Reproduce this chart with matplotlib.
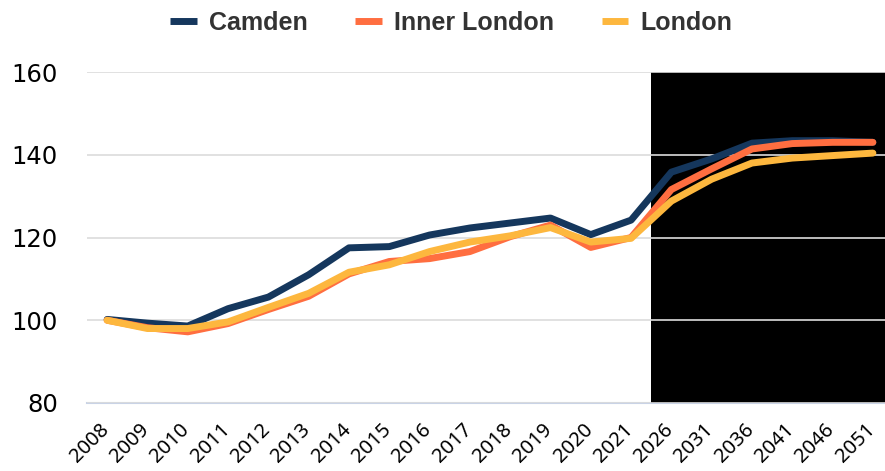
import matplotlib
matplotlib.use("Agg")
import matplotlib.pyplot as plt
from matplotlib.transforms import ScaledTranslation

# index values (2008 = 100)
years = ["2008", "2009", "2010", "2011", "2012", "2013", "2014", "2015", "2016", "2017",
         "2018", "2019", "2020", "2021", "2026", "2031", "2036", "2041", "2046", "2051"]
camden = [100.2, 99.3, 98.6, 102.8, 105.6, 111.0, 117.5, 117.8, 120.6, 122.3,
          123.5, 124.7, 120.7, 124.2, 135.8, 139.0, 142.8, 143.4, 143.4, 143.0]
inner_london = [100.0, 98.2, 97.2, 99.2, 102.6, 105.8, 111.2, 114.2, 114.9, 116.6,
                120.2, 123.0, 117.6, 120.0, 131.6, 136.6, 141.4, 142.7, 143.0, 143.0]
london = [100.0, 98.0, 98.0, 99.6, 103.1, 106.5, 111.6, 113.4, 116.6, 118.9,
          120.4, 122.4, 118.9, 119.8, 128.8, 134.1, 138.0, 139.2, 139.8, 140.4]
series_names = ["Camden", "Inner London", "London"]
projection_start = "2026"

colors = ["#15375d", "#ff6e40", "#fdb73e"]

plt.rcParams["font.family"] = "DejaVu Sans"

fig = plt.figure(figsize=(8.85, 4.71), dpi=100)
ax = fig.add_axes([87 / 885, 68 / 471, 798 / 885, 331 / 471])

x = list(range(len(years)))
# black block behind the projected years
p = years.index(projection_start)
ax.axvspan(p - 0.5, len(years) - 0.7, color="black", zorder=1, lw=0)

for vals, name, c in zip([camden, inner_london, london], series_names, colors):
    ax.plot(x, vals, color=c, lw=5, label=name, solid_capstyle="round",
            solid_joinstyle="round", zorder=3)

ax.set_xlim(-0.5, len(years) - 0.7)
ax.set_ylim(80, 160)
ax.set_yticks([80, 100, 120, 140, 160])
ax.set_xticks(x)
ax.set_xticklabels(years, rotation=45, ha="right", fontsize=14.5, family="Noto Sans")
ax.tick_params(axis="y", labelsize=17.5, length=0, pad=21)
ax.tick_params(axis="x", length=0, pad=12)
shift = ScaledTranslation(6 / 100, 0, fig.dpi_scale_trans)
for lbl in ax.get_xticklabels():
    lbl.set_transform(lbl.get_transform() + shift)

ax.grid(axis="y", color="#dcdcdc", lw=1.2)
ax.set_axisbelow("line")
for s in ["top", "right", "left"]:
    ax.spines[s].set_visible(False)
ax.spines["bottom"].set_color("#c9d3e6")
ax.spines["bottom"].set_linewidth(1.5)
ax.spines["bottom"].set_zorder(0.5)

leg = fig.legend(loc="upper center", bbox_to_anchor=(0.51, 1.025), ncol=3, frameon=False,
                 prop={"family": "Liberation Sans", "weight": "bold", "size": 18},
                 handlelength=1.05, handletextpad=0.5, columnspacing=1.9)
for t in leg.get_texts():
    t.set_color("#333333")
for h in leg.legend_handles:
    h.set_linewidth(5)
    h.set_solid_capstyle("butt")

fig.savefig("out.png", dpi=100)
